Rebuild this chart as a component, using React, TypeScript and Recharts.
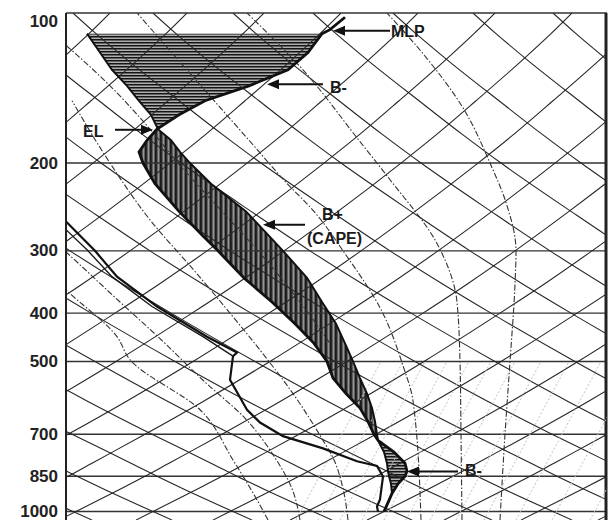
import { Area, ComposedChart, Line, ReferenceDot, ReferenceLine, XAxis, YAxis } from "recharts";

const FONT = "'Liberation Sans', Arial, sans-serif";

// pressure ticks (hPa)
const PRESSURE_TICKS = [100, 200, 300, 400, 500, 700, 850, 1000];

// background grid: horizontal shift of each line family against pressure
const GRID_P = [1040, 1000, 900, 850, 800, 700, 600, 500, 400, 350, 300, 250, 200, 175, 150, 125, 110, 100];
const ISO_SHIFT = [-17, 0, 45, 69, 93, 146, 205, 271, 347, 391, 439, 493, 556, 592, 631, 676, 706, 727];
const ADIA_SHIFT = [-19, 0, 50, 76, 102, 161, 226, 298, 382, 430, 483, 542, 612, 651, 694, 744, 777, 800];
// where each line meets the 100 hPa border
const ISO_TOP = [110, 187, 264, 341, 418, 495, 572, 649, 726, 803, 880, 957, 1034, 1111, 1188, 1265, 1342];
const ADIA_TOP = [-727, -647, -567, -487, -407, -327, -247, -167, -87, -7, 73, 153, 233, 313, 393, 473, 553];

// saturated adiabats (dashed)
const MOIST = [
  { p: [1040, 700, 500, 350, 300, 240, 200, 155, 120, 100], x: [500, 505, 510, 515, 516, 506, 490, 463, 422, 387] },
  { p: [1040, 700, 500, 380, 290, 216, 178, 130, 100], x: [462, 461, 460, 457, 437, 390, 357, 303, 247] },
  { p: [1040, 600, 510, 390, 308, 245, 223, 180, 140, 100], x: [421, 413, 403, 380, 347, 310, 290, 249, 201, 137] },
  { p: [1040, 900, 780, 720, 580, 480, 400, 330, 260, 200, 150], x: [348, 343, 333, 323, 293, 262, 230, 195, 150, 110, 72] },
  { p: [1040, 900, 780, 650, 550, 450, 380, 320, 270], x: [300, 292, 275, 245, 205, 160, 120, 80, 40] },
  { p: [1040, 996, 788, 625, 496, 446, 359, 300], x: [268, 263, 233, 200, 130, 117, 66, 30] },
  { p: [105, 118, 140, 171, 200, 250, 300, 380, 460], x: [40, 70, 110, 150, 178, 222, 258, 300, 330] },
];

// mixing ratio lines (light dotted), x at 1040 hPa and at 500 hPa
const MIX_BOTTOM = [296, 318, 340, 362, 384, 406, 430, 456, 484, 516, 552, 590];
const MIX_TOP = [381, 403, 425, 447, 469, 491, 515, 541, 569, 601, 637, 675];

// sounding
const SOUNDING_P = [102, 108, 110, 120, 130, 140, 150, 160, 171, 180, 190, 200, 220, 250, 280, 300, 340, 380, 420, 460, 500, 540, 580, 620, 660, 700, 720, 760, 800, 830, 850, 880, 920, 960, 1000];
const ENV_T = [345, 330, 322, 308, 288, 249, 205, 179, 157, 147, 139, 143, 155, 179, 203, 218, 244, 272, 295, 314, 327, 333, 346, 360, 368, 374, 378, 394, 405, 407, 405, 398, 392, 388, 384];
const PARCEL = [null, null, 87, 100, 112, 127, 139, 151, 158, 171, 180, 190, 211, 246, 269, 283, 307, 322, 336, 345, 353, 360, 367, 372, 375, 377, 378, 384, 387, 388, 389, 391, 392, 388, 384];

const TD_P = [230, 262, 300, 338, 388, 446, 480, 488, 544, 625, 663, 706, 747, 793, 810, 851, 946, 977, 1000];
const TD_X = [40, 66, 95, 117, 157, 207, 237, 233, 230, 247, 260, 283, 323, 357, 377, 383, 380, 377, 378];
const TD2_P = [240, 272, 300, 338, 388, 446, 488];
const TD2_X = [40, 66, 88, 112, 152, 203, 233];

const toPoints = (ps: number[], xs: number[]) => ps.map((p, i) => ({ p, x: xs[i] }));

const isoLines = ISO_TOP.map((top) =>
  GRID_P.map((p, i) => ({ p, x: top - ISO_SHIFT[ISO_SHIFT.length - 1] + ISO_SHIFT[i] }))
);
const adiaLines = ADIA_TOP.map((top) =>
  GRID_P.map((p, i) => ({ p, x: top + ADIA_SHIFT[ADIA_SHIFT.length - 1] - ADIA_SHIFT[i] }))
);
const mixLines = MIX_BOTTOM.map((b, i) => [
  { p: 1040, x: b },
  { p: 500, x: MIX_TOP[i] },
]);

const sounding = SOUNDING_P.map((p, i) => ({ p, t: ENV_T[i], parcel: PARCEL[i] }));
const topNeg = sounding.filter((d) => d.p >= 110 && d.p <= 171);
const cape = sounding.filter((d) => d.p >= 171 && d.p <= 720);
const lowNeg = sounding.filter((d) => d.p >= 720 && d.p <= 920);

const PressureTick = (props: any) => {
  const { x, y, payload } = props;
  const shift = payload.value === 100 ? 8 : 0;
  return (
    <text x={x} y={y + shift} textAnchor="end" dominantBaseline="central" fontFamily={FONT} fontSize={17} fontWeight="bold" fill="#222">
      {payload.value}
    </text>
  );
};

const arrowHead = (dir: number) => (props: any) => {
  const { cx, cy } = props;
  return <path d={`M${cx},${cy} l${-dir * 12},-5 l0,10 z`} fill="#111" />;
};

const note = (text: string) => (props: any) => (
  <text x={props.cx} y={props.cy} dominantBaseline="central" fontFamily={FONT} fontSize={16} fontWeight="bold" fill="#1a1a1a">
    {text}
  </text>
);

type Arrow = { p: number; from: number; to: number };
const ARROWS: Arrow[] = [
  { p: 108.5, from: 390, to: 333 },
  { p: 139, from: 323, to: 267 },
  { p: 171.5, from: 115, to: 153 },
  { p: 266, from: 305, to: 263 },
  { p: 831, from: 458, to: 407 },
];
const NOTES = [
  { text: "MLP", x: 391, p: 109 },
  { text: "B-", x: 330, p: 141 },
  { text: "EL", x: 83, p: 172.5 },
  { text: "B+", x: 322, p: 254 },
  { text: "(CAPE)", x: 307, p: 284 },
  { text: "B-", x: 465, p: 829 },
];

export default function App() {
  return (
    <div style={{ position: "absolute", left: 0, top: 0, background: "#fff" }}>
      <ComposedChart width={611} height={520} layout="vertical" margin={{ top: 13, right: 4, bottom: 0, left: 6 }}>
        <defs>
          <pattern id="hatchH" width="4" height="3" patternUnits="userSpaceOnUse">
            <rect width="4" height="3" fill="#8c8c8c" fillOpacity={0.7} />
            <rect width="4" height="1.5" fill="#151515" />
          </pattern>
          <pattern id="hatchV" width="5" height="4" patternUnits="userSpaceOnUse">
            <rect width="5" height="4" fill="#5e5e5e" />
            <rect width="1.8" height="4" fill="#1a1a1a" />
            <rect x="3" width="1" height="4" fill="#959595" />
          </pattern>
        </defs>
        <XAxis type="number" dataKey="x" domain={[66, 607]} allowDataOverflow hide />
        <YAxis
          type="number"
          dataKey="p"
          scale="log"
          domain={[100, 1040]}
          allowDataOverflow
          ticks={PRESSURE_TICKS}
          interval={0}
          width={60}
          tickLine={false}
          axisLine={{ stroke: "#222", strokeWidth: 2 }}
          tick={<PressureTick />}
        />

        {PRESSURE_TICKS.map((p) => (
          <ReferenceLine key={`isobar-${p}`} y={p} stroke="#333" strokeWidth={1.4} />
        ))}
        <ReferenceLine x={606} stroke="#222" strokeWidth={3} />

        {isoLines.map((pts, i) => (
          <Line key={`iso-${i}`} data={pts} dataKey="x" type="monotone" stroke="#262626" strokeWidth={1.1} dot={false} isAnimationActive={false} />
        ))}
        {adiaLines.map((pts, i) => (
          <Line key={`adia-${i}`} data={pts} dataKey="x" type="monotone" stroke="#262626" strokeWidth={1.1} dot={false} isAnimationActive={false} />
        ))}
        {mixLines.map((pts, i) => (
          <Line key={`mix-${i}`} data={pts} dataKey="x" type="linear" stroke="#c2c2c2" strokeWidth={1} strokeDasharray="2 2" dot={false} isAnimationActive={false} />
        ))}
        {MOIST.map((m, i) => (
          <Line key={`moist-${i}`} data={toPoints(m.p, m.x)} dataKey="x" type="monotone" stroke="#333" strokeWidth={1.1} strokeDasharray="6 2 1.5 2" dot={false} isAnimationActive={false} />
        ))}

        <Area data={topNeg} dataKey={(d: any) => [d.parcel, d.t]} type="linear" stroke="none" fill="url(#hatchH)" fillOpacity={1} isAnimationActive={false} />
        <Area data={cape} dataKey={(d: any) => [d.t, d.parcel]} type="linear" stroke="none" fill="url(#hatchV)" fillOpacity={1} isAnimationActive={false} />
        <Area data={lowNeg} dataKey={(d: any) => [d.parcel, d.t]} type="linear" stroke="none" fill="url(#hatchH)" fillOpacity={1} isAnimationActive={false} />

        <Line data={toPoints(TD2_P, TD2_X)} dataKey="x" type="linear" stroke="#1a1a1a" strokeWidth={1.4} dot={false} isAnimationActive={false} />
        <Line data={toPoints(TD_P, TD_X)} dataKey="x" type="linear" stroke="#111" strokeWidth={2.2} dot={false} isAnimationActive={false} />
        <Line data={sounding.filter((d) => d.parcel != null)} dataKey="parcel" type="linear" stroke="#111" strokeWidth={2} dot={false} isAnimationActive={false} />
        <Line data={sounding} dataKey="t" type="linear" stroke="#111" strokeWidth={2.8} dot={false} isAnimationActive={false} />

        {ARROWS.map((a, i) => (
          <ReferenceLine key={`arrow-${i}`} segment={[{ x: a.from, y: a.p }, { x: a.to + (a.to < a.from ? 8 : -8), y: a.p }]} stroke="#111" strokeWidth={2} ifOverflow="visible" />
        ))}
        {ARROWS.map((a, i) => (
          <ReferenceDot key={`head-${i}`} x={a.to} y={a.p} r={0} ifOverflow="visible" shape={arrowHead(a.to > a.from ? 1 : -1)} />
        ))}
        {NOTES.map((n, i) => (
          <ReferenceDot key={`note-${i}`} x={n.x} y={n.p} r={0} ifOverflow="visible" shape={note(n.text)} />
        ))}
      </ComposedChart>
    </div>
  );
}
